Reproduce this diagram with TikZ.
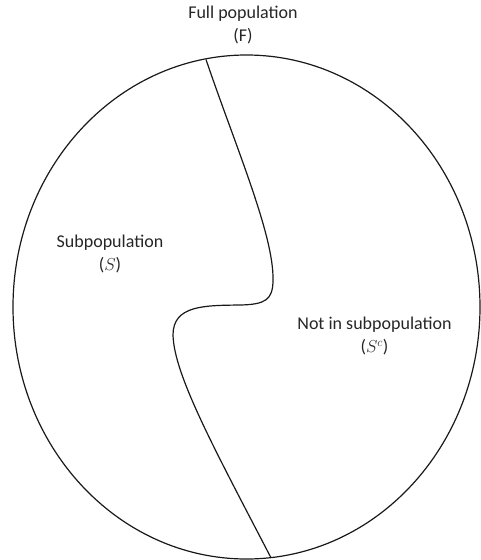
\documentclass[tikz,border=0pt]{standalone}
\usepackage{fontspec}
\setmainfont{Carlito}
\usetikzlibrary{shapes.geometric}
\begin{document}
\begin{tikzpicture}[x=1pt,y=-1pt,
  lbl/.style={align=center,font=\fontsize{18}{23}\selectfont,inner sep=0pt,text=black!85},
  outline/.style={line width=1.2pt,black!90}]
\useasboundingbox (0,0) rectangle (481,560);
\node[outline,draw,ellipse,minimum width=467pt,minimum height=504pt,inner sep=0pt] (F) at (246.5,307) {};
\coordinate (top) at (206,59.5);
\coordinate (bot) at (271,557.8);
\draw[outline] (top) .. controls (235,145) and (274,235) .. (273,280)
  .. controls (273,300) and (265,304.5) .. (240,305)
  .. controls (205,305.5) and (173,305) .. (173,335)
  .. controls (174,375) and (215,450) .. (bot);
\node[lbl] (full) at (243,25) {Full population\\(F)};
\node[lbl] (sub) at (110,254) {Subpopulation\\($S$)};
\node[lbl] (notsub) at (374.5,336) {Not in subpopulation\\($S^c$)};
\end{tikzpicture}
\end{document}
